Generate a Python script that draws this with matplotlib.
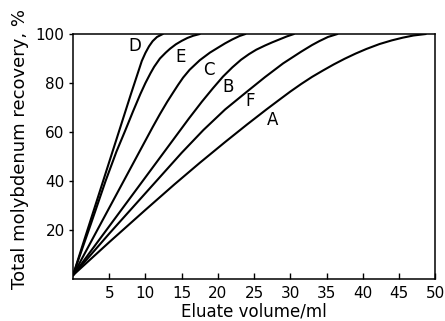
import matplotlib.pyplot as plt

plt.rcParams['font.family'] = ['DejaVu Sans']

# elution curves (eluate volume in ml, recovery in %)
d_x = [0, 2, 4, 6, 8, 9.0, 9.5, 10.0, 10.5, 11.0, 11.6, 12.4]
d_y = [1.5, 20, 38.5, 57, 75.5, 84.5, 89.0, 92.3, 95.0, 97.1, 98.8, 100]
e_x = [0, 2.5, 4.5, 6.0, 7.2, 8.3, 9.3, 10.0, 10.7, 11.2, 12.0, 12.8, 13.4, 14.2, 15.0,
       15.8, 16.6, 17.5]
e_y = [1.5, 22.7, 40.0, 52.0, 60.5, 68.5, 75.5, 80.0, 84.0, 86.6, 90.0, 92.4, 94.0, 95.8,
       97.2, 98.4, 99.3, 100]
c_x = [0, 3, 6, 9, 11.0, 12.0, 13.0, 13.8, 14.5, 15.2, 16.1, 17.5, 18.9, 20.0, 21.0,
       22.0, 23.0, 23.8]
c_y = [1.5, 18, 34.5, 51, 62.0, 67.3, 72.3, 76.0, 79.2, 82.2, 85.4, 89.3, 92.4, 94.4,
       96.2, 97.8, 99.2, 100]
b_x = [0, 4, 8, 12, 16.0, 17.8, 19.3, 20.7, 22.0, 23.2, 24.3, 25.3, 26.5, 27.5, 28.5,
       29.5, 30.5]
b_y = [1.5, 17.5, 33.5, 49.5, 65.5, 72.4, 77.8, 82.6, 86.4, 89.5, 91.8, 93.6, 95.3, 96.6,
       97.8, 99.0, 100]
f_x = [0, 5, 10, 15, 18, 21, 23.9, 26.5, 29.0, 31.5, 33.0, 34.0, 35.2, 36.5]
f_y = [1.5, 18.5, 35.0, 51.5, 60.8, 69.2, 76.2, 82.4, 88.0, 92.8, 95.5, 97.1, 98.8, 100]
a_x = [0, 5, 10, 14, 17.5, 21, 24, 26.7, 28.5, 30, 31.5, 33, 34.5, 36, 37.5, 39, 40.5,
       42.3, 44, 45.5, 47, 48.7]
a_y = [1.5, 15.0, 28.2, 38.6, 47.4, 55.9, 63.0, 69.2, 73.2, 76.5, 79.6, 82.5, 85.1, 87.6,
       89.9, 92.0, 93.9, 95.9, 97.4, 98.5, 99.4, 100]

curves = [(d_x, d_y), (e_x, e_y), (c_x, c_y), (b_x, b_y), (f_x, f_y), (a_x, a_y)]
labels = ['D', 'E', 'C', 'B', 'F', 'A']
label_pos = [(8.5, 95.0), (14.9, 90.5), (18.7, 85.5), (21.4, 78.5), (24.4, 72.5), (27.6, 65)]

x_ticks = [5, 10, 15, 20, 25, 30, 35, 40, 45, 50]
y_ticks = [20, 40, 60, 80, 100]

fig = plt.figure(figsize=(4.45, 3.21), dpi=100)
ax = fig.add_axes([0.164, 0.131, 0.814, 0.763])

for (xs, ys) in curves:
    ax.plot(xs, ys, color='black', linewidth=1.5, solid_capstyle='round',
            solid_joinstyle='round')

for lab, (lx, ly) in zip(labels, label_pos):
    ax.text(lx, ly, lab, fontsize=12, ha='center', va='center')

ax.set_xlim(0, 50)
ax.set_ylim(0, 100)
ax.set_xticks(x_ticks)
ax.set_yticks(y_ticks)
ax.tick_params(axis='x', direction='in', length=4, width=1, labelsize=11, pad=5)
ax.tick_params(axis='y', direction='out', length=3, width=1, labelsize=11, pad=3)
for sp in ax.spines.values():
    sp.set_linewidth(1.1)

ax.set_xlabel('Eluate volume/ml', fontsize=12, labelpad=1)
ax.set_ylabel('Total molybdenum recovery, %', fontsize=13)
ax.yaxis.set_label_coords(-0.121, 0.53)

fig.savefig('out.png', dpi=100)
